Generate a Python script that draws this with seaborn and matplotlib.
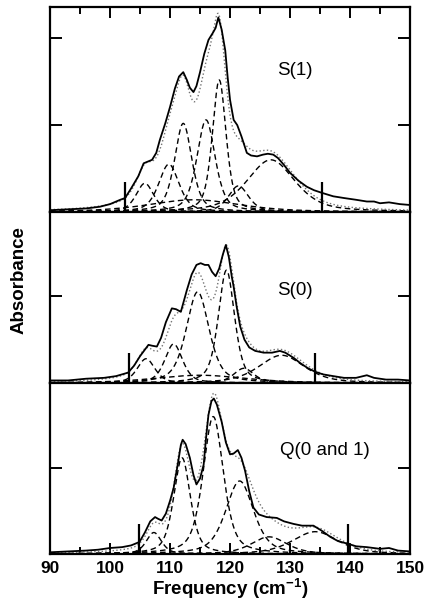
import numpy as np
import matplotlib
matplotlib.use("Agg")
import matplotlib.pyplot as plt
import seaborn as sns

sns.set_theme(style="ticks")
plt.rcParams["font.family"] = ["Liberation Sans", "DejaVu Sans"]
plt.rcParams["mathtext.fontset"] = "custom"
plt.rcParams["mathtext.rm"] = "Liberation Sans"
plt.rcParams["mathtext.bf"] = "Liberation Sans:bold"
for key in ["text.color", "axes.labelcolor", "xtick.color", "ytick.color", "axes.edgecolor"]:
    plt.rcParams[key] = "black"

# panel names (top to bottom)
panel_names = ["S(1)", "S(0)", "Q(0 and 1)"]

s1_freq = [90, 93, 96, 98.3, 100, 101.7, 102.5, 103.5, 104.7, 105.6, 106.3, 107, 107.7, 108.3, 109.2,
           110, 110.8, 111.5, 112.2, 112.8, 113.3, 113.9, 114.4, 115, 115.7, 116.4, 117.2, 117.6,
           118.05, 118.6, 119.2, 119.6, 120, 120.6, 121.2, 121.9, 122.8, 123.5, 124.5, 125.5, 126.3,
           127.2, 128, 129, 130, 131.4, 132.8, 134, 135.3, 137.2, 139, 141, 142.8, 144, 145, 146.5,
           148.3, 150]
s1_abs = [0.02, 0.03, 0.04, 0.06, 0.09, 0.14, 0.16, 0.27, 0.41, 0.56, 0.58, 0.60, 0.68, 0.83, 1.02,
          1.21, 1.42, 1.56, 1.61, 1.52, 1.43, 1.38, 1.45, 1.61, 1.82, 1.98, 2.07, 2.12,
          2.24, 2.10, 1.86, 1.55, 1.29, 1.06, 1.00, 0.87, 0.68, 0.65, 0.64, 0.66, 0.67,
          0.66, 0.62, 0.54, 0.45, 0.36, 0.29, 0.25, 0.22, 0.18, 0.16, 0.14, 0.12, 0.12, 0.10, 0.11,
          0.09, 0.08]

s0_freq = [90, 93, 96, 99, 101, 103, 104, 105, 106.4, 107, 107.8, 108.5, 109.3, 110.3, 111, 111.8,
           112.8, 113.6, 114.4, 115.1, 115.8, 116.4, 117, 117.6, 118.2, 118.8, 119.3, 119.8, 120.3,
           120.6, 121.1, 121.7, 122.4, 123.2, 124.2, 125.6, 127, 128.3, 129.2, 130.6, 131.7, 133,
           134.2, 135.5, 137.2, 139, 141, 142.8, 144, 146, 148, 150]
s0_abs = [0.03, 0.03, 0.05, 0.06, 0.08, 0.12, 0.20, 0.31, 0.44, 0.43, 0.42, 0.52, 0.70, 0.86, 0.85, 0.82,
          1.07, 1.25, 1.36, 1.38, 1.36, 1.36, 1.28, 1.23, 1.32, 1.48, 1.59, 1.45, 1.22,
          1.11, 0.88, 0.65, 0.50, 0.41, 0.37, 0.35, 0.35, 0.37, 0.35, 0.29, 0.23, 0.17,
          0.13, 0.10, 0.08, 0.06, 0.06, 0.09, 0.06, 0.04, 0.04, 0.03]

q_freq = [90, 93, 96, 98, 100, 102, 103.5, 104.9, 105.8, 106.7, 107.5, 108, 108.6, 109.3, 110, 110.6,
          111.3, 111.8, 112.1, 112.6, 113.3, 113.9, 114.4, 115, 115.6, 116, 116.4, 116.9, 117.3, 117.8,
          118.6, 119.3, 120, 120.6, 121.3, 121.9, 122.5, 123.2, 123.9, 124.8, 126.1, 127.8, 129,
          130.6, 132, 133.9, 135.3, 136.7, 138, 139.6, 141, 142.8, 145, 146.5, 148, 150]
q_abs = [0.02, 0.03, 0.04, 0.05, 0.07, 0.08, 0.10, 0.14, 0.25, 0.38, 0.43, 0.41, 0.39, 0.47, 0.62, 0.77,
         1.05, 1.27, 1.33, 1.28, 1.12, 0.92, 0.81, 0.88, 1.04, 1.35, 1.62, 1.78, 1.81, 1.74,
         1.54, 1.30, 1.16, 1.17, 1.21, 1.12, 0.97, 0.73, 0.54, 0.46, 0.43, 0.42, 0.38,
         0.35, 0.33, 0.33, 0.27, 0.20, 0.15, 0.12, 0.09, 0.08, 0.06, 0.07, 0.04, 0.03]

# fitted band components: centre, peak height, FWHM
s1_centers = [105.8, 109.8, 112.2, 116.0, 118.2, 121.4, 126.8, 114.0]
s1_heights = [0.33, 0.55, 1.02, 1.06, 1.52, 0.30, 0.60, 0.14]
s1_widths = [3.5, 4.0, 3.4, 3.6, 2.7, 4.0, 9.5, 18.0]

s0_centers = [106.0, 110.6, 114.6, 119.4, 122.3, 128.6, 115.0]
s0_heights = [0.28, 0.45, 1.05, 1.30, 0.17, 0.32, 0.09]
s0_widths = [3.5, 3.5, 4.5, 3.2, 4.0, 9.0, 18.0]

q_centers = [107.3, 112.0, 117.2, 121.6, 126.5, 134.2]
q_heights = [0.25, 1.12, 1.60, 0.85, 0.20, 0.26]
q_widths = [3.0, 3.3, 4.0, 5.5, 7.0, 9.0]

# integration limits marked on each panel
s1_limits = [102.5, 135.3]
s0_limits = [103.2, 134.2]
q_limits = [104.9, 139.7]


def band(x, c, h, w, eta=0.5):
    r = ((x - c) / w) ** 2
    return h * (eta / (1 + 4 * r) + (1 - eta) * np.exp(-4 * np.log(2) * r))


panels = [
    (s1_freq, s1_abs, s1_centers, s1_heights, s1_widths, s1_limits),
    (s0_freq, s0_abs, s0_centers, s0_heights, s0_widths, s0_limits),
    (q_freq, q_abs, q_centers, q_heights, q_widths, q_limits),
]
ytops = [2.36, 1.97, 1.99]
label_pos = [(130.8, 1.63), (130.8, 1.07), (135.8, 1.21)]

fig = plt.figure(figsize=(4.28, 6.09), dpi=100)
bounds = [(0.652, 0.9885), (0.371, 0.652), (0.0903, 0.371)]
axes = [fig.add_axes([0.117, b, 0.958 - 0.117, t - b]) for b, t in bounds]

xs = np.linspace(90, 150, 601)
for i, (ax, (fr, ab, cs, hs, ws, lims)) in enumerate(zip(axes, panels)):
    total = np.zeros_like(xs)
    for c, h, w in zip(cs, hs, ws):
        comp = band(xs, c, h, w)
        total += comp
        sns.lineplot(x=xs, y=comp, ax=ax, color="black", linewidth=1.0,
                     linestyle=(0, (4, 2.6)))
    sns.lineplot(x=xs, y=total, ax=ax, color="0.45", linewidth=1.0, linestyle=":")
    sns.lineplot(x=fr, y=ab, ax=ax, color="black", linewidth=1.3)
    ax.vlines(lims, 0, 0.35, color="black", linewidth=1.6)

    ax.set_xlim(90, 150)
    ax.set_ylim(0, ytops[i])
    ax.set_yticks([1, 2] if i == 0 else [1])
    ax.tick_params(axis="y", which="both", direction="in", left=True, right=True,
                   labelleft=False, length=8.5, width=1.4)
    ax.set_xticks(np.arange(90, 151, 10))
    ax.set_xticks(np.arange(95, 150, 10), minor=True)
    ax.tick_params(axis="x", which="major", direction="in", length=8, width=1.4)
    ax.tick_params(axis="x", which="minor", direction="in", length=5, width=1.4)
    if i == 0:
        ax.tick_params(axis="x", which="both", top=True, bottom=False, labelbottom=False)
    elif i == 1:
        ax.tick_params(axis="x", which="both", top=False, bottom=False, labelbottom=False)
    else:
        ax.tick_params(axis="x", which="both", top=False, bottom=True, labelbottom=True,
                       pad=5, labelsize=12.5)
        for lab in ax.get_xticklabels():
            lab.set_fontweight("bold")
    for sp in ax.spines.values():
        sp.set_linewidth(1.6)
        sp.set_color("black")
    ax.set_ylabel("")
    ax.set_xlabel("")
    ax.text(label_pos[i][0], label_pos[i][1], panel_names[i], ha="center", va="center",
            fontsize=13.5)

axes[2].set_xlabel("Frequency (cm$^{\\mathbf{-1}}$)", fontsize=13.5, fontweight="bold",
                   labelpad=0)
fig.text(0.045, 0.54, "Absorbance", rotation=90, ha="center", va="center",
         fontsize=13.5, fontweight="bold")

fig.savefig("out.png", dpi=100)
